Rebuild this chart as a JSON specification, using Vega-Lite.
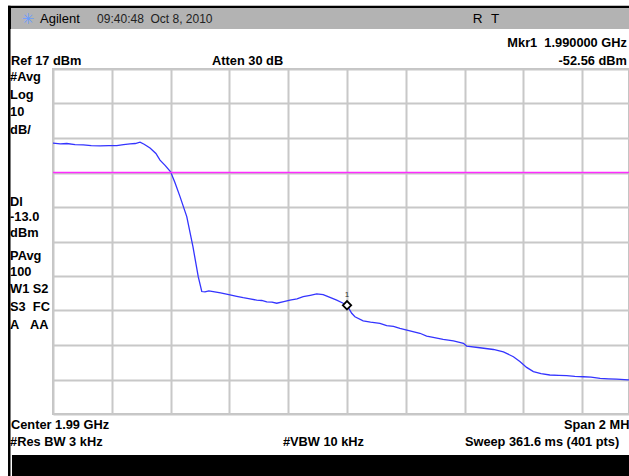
{
  "$schema": "https://vega.github.io/schema/vega-lite/v6.json",
  "width": 576,
  "height": 345,
  "autosize": {"type": "none"},
  "padding": {"left": 53, "top": 69, "right": 0, "bottom": 62},
  "background": "white",
  "data": {"values": [{}]},
  "config": {
    "view": {"stroke": "#c4c4c4", "strokeWidth": 2},
    "text": {"font": "Liberation Sans", "fontSize": 12.8, "fontWeight": "bold", "baseline": "middle", "align": "left", "color": "black"}
  },
  "datasets": {
    "trace": [
      {"f": -1000, "dbm": -4.5}, {"f": -975, "dbm": -4.7}, {"f": -953, "dbm": -4.6}, {"f": -925, "dbm": -4.9},
      {"f": -897, "dbm": -5.0}, {"f": -870, "dbm": -5.2}, {"f": -840, "dbm": -5.3}, {"f": -810, "dbm": -5.2},
      {"f": -783, "dbm": -5.2}, {"f": -760, "dbm": -4.9}, {"f": -738, "dbm": -4.7}, {"f": -720, "dbm": -4.6},
      {"f": -704, "dbm": -4.2}, {"f": -690, "dbm": -4.8}, {"f": -670, "dbm": -5.9}, {"f": -650, "dbm": -7.5},
      {"f": -636, "dbm": -9.4}, {"f": -618, "dbm": -11.0}, {"f": -600, "dbm": -12.8}, {"f": -585, "dbm": -16.0},
      {"f": -568, "dbm": -20.0}, {"f": -545, "dbm": -25.8}, {"f": -524, "dbm": -34.5}, {"f": -506, "dbm": -43.2},
      {"f": -494, "dbm": -47.5}, {"f": -483, "dbm": -47.6}, {"f": -470, "dbm": -47.3}, {"f": -455, "dbm": -47.5},
      {"f": -430, "dbm": -47.9}, {"f": -398, "dbm": -48.5}, {"f": -375, "dbm": -48.9}, {"f": -353, "dbm": -49.3},
      {"f": -330, "dbm": -49.6}, {"f": -307, "dbm": -50.0}, {"f": -290, "dbm": -50.1}, {"f": -273, "dbm": -50.5},
      {"f": -255, "dbm": -50.6}, {"f": -239, "dbm": -50.9}, {"f": -215, "dbm": -50.4}, {"f": -194, "dbm": -50.0},
      {"f": -170, "dbm": -49.6}, {"f": -149, "dbm": -49.0}, {"f": -125, "dbm": -48.6}, {"f": -103, "dbm": -48.2},
      {"f": -81, "dbm": -48.4}, {"f": -58, "dbm": -49.2}, {"f": -35, "dbm": -50.0}, {"f": -13, "dbm": -50.9},
      {"f": 0, "dbm": -51.5}, {"f": 16, "dbm": -53.8}, {"f": 27, "dbm": -54.8}, {"f": 55, "dbm": -56.0},
      {"f": 80, "dbm": -56.4}, {"f": 112, "dbm": -56.7}, {"f": 135, "dbm": -57.4}, {"f": 158, "dbm": -57.6},
      {"f": 180, "dbm": -58.2}, {"f": 214, "dbm": -58.9}, {"f": 248, "dbm": -59.6}, {"f": 271, "dbm": -60.4},
      {"f": 293, "dbm": -60.8}, {"f": 327, "dbm": -61.4}, {"f": 362, "dbm": -61.8}, {"f": 396, "dbm": -62.5},
      {"f": 407, "dbm": -63.3}, {"f": 452, "dbm": -63.8}, {"f": 498, "dbm": -64.3}, {"f": 532, "dbm": -65.0},
      {"f": 566, "dbm": -66.4}, {"f": 588, "dbm": -67.8}, {"f": 611, "dbm": -69.5}, {"f": 634, "dbm": -70.7},
      {"f": 660, "dbm": -71.3}, {"f": 690, "dbm": -71.7}, {"f": 720, "dbm": -71.8}, {"f": 747, "dbm": -71.9},
      {"f": 775, "dbm": -72.1}, {"f": 804, "dbm": -72.2}, {"f": 830, "dbm": -72.3}, {"f": 861, "dbm": -72.7},
      {"f": 890, "dbm": -72.8}, {"f": 917, "dbm": -72.9}, {"f": 957, "dbm": -73.1}, {"f": 1000, "dbm": -73.2}
    ]
  },
  "layer": [
    {
      "data": {"name": "trace"},
      "mark": {"type": "line", "color": "#3434ff", "strokeWidth": 1.3, "clip": true},
      "encoding": {
        "x": {"field": "f", "type": "quantitative", "scale": {"domain": [-1000, 959.2], "nice": false, "zero": false},
              "axis": {"values": [-1000, -800, -600, -400, -200, 0, 200, 400, 600, 800], "tickCount": 30, "labels": false, "ticks": false, "domain": false, "title": null, "grid": true, "gridColor": "#c8c8c8", "gridWidth": 2}},
        "y": {"field": "dbm", "type": "quantitative", "scale": {"domain": [-83, 17], "nice": false, "zero": false},
              "axis": {"values": [-83, -73, -63, -53, -43, -33, -23, -13, -3, 7, 17], "tickCount": 30, "labels": false, "ticks": false, "domain": false, "title": null, "grid": true, "gridColor": "#c8c8c8", "gridWidth": 2}}
      }
    },
    {
      "mark": {"type": "rule", "color": "#ff2cff", "strokeWidth": 1.5},
      "encoding": {"y": {"datum": -13, "type": "quantitative"}}
    },
    {
      "mark": {"type": "point", "shape": "diamond", "size": 70, "filled": false, "stroke": "black", "strokeWidth": 1.8, "fill": "white", "fillOpacity": 1, "opacity": 1},
      "encoding": {"x": {"datum": 0, "type": "quantitative"}, "y": {"datum": -51.5, "type": "quantitative"}}
    },
    {
      "mark": {"type": "text", "text": "1", "fontSize": 8, "fontWeight": "normal", "align": "center", "color": "#333"},
      "encoding": {"x": {"datum": 0, "type": "quantitative"}, "y": {"datum": -48.5, "type": "quantitative"}}
    },
    {
      "mark": {"type": "rect", "color": "black", "clip": false},
      "encoding": {"x": {"datum": -1153, "type": "quantitative"}, "x2": {"datum": 960}, "y": {"datum": 35.3, "type": "quantitative"}, "y2": {"datum": 28.6}}
    },
    {
      "mark": {"type": "rect", "color": "#b3b3b3", "clip": false},
      "encoding": {"x": {"datum": -1143, "type": "quantitative"}, "x2": {"datum": 960}, "y": {"datum": 34.7, "type": "quantitative"}, "y2": {"datum": 28.6}}
    },
    {
      "mark": {"type": "rect", "color": "black", "clip": false},
      "encoding": {"x": {"datum": -1153, "type": "quantitative"}, "x2": {"datum": -1144.5}, "y": {"datum": 35.3, "type": "quantitative"}, "y2": {"datum": -101}}
    },
    {
      "mark": {"type": "rect", "color": "black", "clip": false},
      "encoding": {"x": {"datum": -1139.5, "type": "quantitative"}, "x2": {"datum": 960}, "y": {"datum": -94.9, "type": "quantitative"}, "y2": {"datum": -101}}
    },
    {
      "mark": {"type": "text", "text": "✳", "fontSize": 15, "fontWeight": "normal", "font": "DejaVu Sans", "align": "center", "color": "#6a9cff"},
      "encoding": {"x": {"datum": -1085, "type": "quantitative"}, "y": {"datum": 31.5, "type": "quantitative"}}
    },
    {
      "mark": {"type": "text", "text": "Agilent", "fontWeight": "normal", "fontSize": 13},
      "encoding": {"x": {"datum": -1044, "type": "quantitative"}, "y": {"datum": 31.5, "type": "quantitative"}}
    },
    {
      "mark": {"type": "text", "text": "09:40:48\u00a0\u00a0Oct 8, 2010", "fontWeight": "normal", "fontSize": 12, "color": "#222"},
      "encoding": {"x": {"datum": -850, "type": "quantitative"}, "y": {"datum": 31.5, "type": "quantitative"}}
    },
    {
      "mark": {"type": "text", "text": "R", "fontWeight": "normal", "fontSize": 13.5},
      "encoding": {"x": {"datum": 428, "type": "quantitative"}, "y": {"datum": 31.5, "type": "quantitative"}}
    },
    {
      "mark": {"type": "text", "text": "T", "fontWeight": "normal", "fontSize": 13.5},
      "encoding": {"x": {"datum": 490, "type": "quantitative"}, "y": {"datum": 31.5, "type": "quantitative"}}
    },
    {
      "mark": {"type": "text", "text": "Mkr1\u00a0\u00a01.990000 GHz", "align": "right"},
      "encoding": {"x": {"datum": 952, "type": "quantitative"}, "y": {"datum": 24.5, "type": "quantitative"}}
    },
    {
      "mark": {"type": "text", "text": "-52.56 dBm", "align": "right"},
      "encoding": {"x": {"datum": 952, "type": "quantitative"}, "y": {"datum": 19.3, "type": "quantitative"}}
    },
    {
      "mark": {"type": "text", "text": "Ref 17 dBm"},
      "encoding": {"x": {"datum": -1143, "type": "quantitative"}, "y": {"datum": 19.3, "type": "quantitative"}}
    },
    {
      "mark": {"type": "text", "text": "Atten 30 dB"},
      "encoding": {"x": {"datum": -459, "type": "quantitative"}, "y": {"datum": 19.3, "type": "quantitative"}}
    },
    {"mark": {"type": "text", "text": "#Avg"}, "encoding": {"x": {"datum": -1146, "type": "quantitative"}, "y": {"datum": 14.6, "type": "quantitative"}}},
    {"mark": {"type": "text", "text": "Log"}, "encoding": {"x": {"datum": -1146, "type": "quantitative"}, "y": {"datum": 9.46, "type": "quantitative"}}},
    {"mark": {"type": "text", "text": "10"}, "encoding": {"x": {"datum": -1146, "type": "quantitative"}, "y": {"datum": 4.45, "type": "quantitative"}}},
    {"mark": {"type": "text", "text": "dB/"}, "encoding": {"x": {"datum": -1146, "type": "quantitative"}, "y": {"datum": -0.68, "type": "quantitative"}}},
    {"mark": {"type": "text", "text": "Dl"}, "encoding": {"x": {"datum": -1146, "type": "quantitative"}, "y": {"datum": -21.46, "type": "quantitative"}}},
    {"mark": {"type": "text", "text": "-13.0"}, "encoding": {"x": {"datum": -1146, "type": "quantitative"}, "y": {"datum": -25.81, "type": "quantitative"}}},
    {"mark": {"type": "text", "text": "dBm"}, "encoding": {"x": {"datum": -1146, "type": "quantitative"}, "y": {"datum": -30.45, "type": "quantitative"}}},
    {"mark": {"type": "text", "text": "PAvg"}, "encoding": {"x": {"datum": -1146, "type": "quantitative"}, "y": {"datum": -37.2, "type": "quantitative"}}},
    {"mark": {"type": "text", "text": "100"}, "encoding": {"x": {"datum": -1146, "type": "quantitative"}, "y": {"datum": -41.84, "type": "quantitative"}}},
    {"mark": {"type": "text", "text": "W1 S2"}, "encoding": {"x": {"datum": -1146, "type": "quantitative"}, "y": {"datum": -46.86, "type": "quantitative"}}},
    {"mark": {"type": "text", "text": "S3\u00a0\u00a0FC"}, "encoding": {"x": {"datum": -1146, "type": "quantitative"}, "y": {"datum": -51.9, "type": "quantitative"}}},
    {"mark": {"type": "text", "text": "A\u00a0\u00a0\u00a0AA"}, "encoding": {"x": {"datum": -1146, "type": "quantitative"}, "y": {"datum": -57.2, "type": "quantitative"}}},
    {"mark": {"type": "text", "text": "Center 1.99 GHz"}, "encoding": {"x": {"datum": -1143, "type": "quantitative"}, "y": {"datum": -86.2, "type": "quantitative"}}},
    {"mark": {"type": "text", "text": "#Res BW 3 kHz"}, "encoding": {"x": {"datum": -1146, "type": "quantitative"}, "y": {"datum": -91.1, "type": "quantitative"}}},
    {"mark": {"type": "text", "text": "#VBW 10 kHz"}, "encoding": {"x": {"datum": -218, "type": "quantitative"}, "y": {"datum": -91.1, "type": "quantitative"}}},
    {"mark": {"type": "text", "text": "Sweep 361.6 ms (401 pts)"}, "encoding": {"x": {"datum": 401, "type": "quantitative"}, "y": {"datum": -91.1, "type": "quantitative"}}},
    {"mark": {"type": "text", "text": "Span 2 MHz"}, "encoding": {"x": {"datum": 738, "type": "quantitative"}, "y": {"datum": -86.2, "type": "quantitative"}}}
  ]
}
